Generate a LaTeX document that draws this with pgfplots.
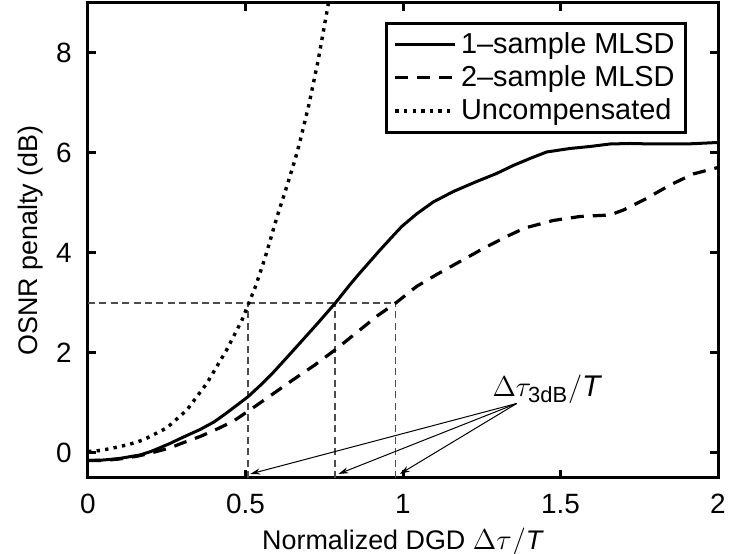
\documentclass[border=0pt]{standalone}
\usepackage{fontspec}
\setmainfont{Liberation Sans}
\usepackage{pgfplots}
\pgfplotsset{compat=1.18}
\usetikzlibrary{arrows.meta}
\begin{document}
\fontsize{13.5}{16}\selectfont
\begin{tikzpicture}
\begin{axis}[name=ax, at={(0,0)}, anchor=south west,
  width=315bp, height=237.5bp, scale only axis,
  xmin=0, xmax=2, ymin=-0.5, ymax=9,
  xtick={0,0.5,1,1.5,2}, ytick={0,2,4,6,8},
  xticklabels={0,0.5,1,1.5,2},
  tick align=inside, major tick length=4bp,
  every tick/.style={black, line width=1.5bp},
  axis line style={line width=1.5bp},
  /pgf/number format/assume math mode=true,
  tick label style={font=\fontsize{14}{16}\selectfont},
  xticklabel style={yshift=-3.5bp},
  yticklabel style={xshift=-3.5bp},
  xlabel={Normalized DGD $\Delta\tau/$\textit{T}},
  ylabel={OSNR penalty (dB)},
  xlabel style={at={(axis description cs:0.5,-0.085)}, anchor=north, font=\fontsize{13.5}{16}\selectfont},
  ylabel style={at={(axis description cs:-0.056,0.5)}, anchor=south, font=\fontsize{13.5}{16}\selectfont},
  legend style={at={(0.951,0.96)}, anchor=north east, draw=black, line width=1.5bp,
    font=\fontsize{14.5}{16}\selectfont, inner xsep=3.5bp, inner ysep=2.5bp, row sep=0bp,
    cells={anchor=west}},
  legend image code/.code={\draw[#1] (0bp,0bp) -- (30bp,0bp);},
  clip=true,
]
% 3 dB guide lines
\addplot[forget plot, gray!60!black, line width=0.6bp, dash pattern=on 3.5bp off 2.2bp] coordinates {(0,3) (0.975,3)};
\addplot[forget plot, gray!60!black, line width=0.6bp, dash pattern=on 3.5bp off 2.2bp] coordinates {(0.508,-0.5) (0.508,3)};
\addplot[forget plot, gray!60!black, line width=0.6bp, dash pattern=on 3.5bp off 2.2bp] coordinates {(0.784,-0.5) (0.784,3)};
\addplot[forget plot, gray!60!black, line width=0.6bp, dash pattern=on 3.5bp off 2.2bp] coordinates {(0.975,-0.5) (0.975,3)};

\addplot[black, line width=1.5bp, line join=round] coordinates {
(0,-0.15) (0.05,-0.14) (0.10,-0.11) (0.165,-0.04) (0.20,0.03) (0.26,0.19)
(0.30,0.31) (0.356,0.47) (0.40,0.62) (0.44,0.8) (0.509,1.13) (0.55,1.37)
(0.588,1.61) (0.63,1.9) (0.673,2.2) (0.73,2.6) (0.784,2.99) (0.832,3.37)
(0.863,3.6) (0.895,3.83) (0.93,4.08) (0.965,4.32) (0.996,4.53) (1.043,4.78) (1.096,5.02)
(1.16,5.23) (1.234,5.43) (1.297,5.59) (1.35,5.75) (1.403,5.89) (1.456,6.02)
(1.53,6.09) (1.594,6.13) (1.657,6.18) (1.72,6.19) (1.794,6.18) (1.90,6.18) (2.0,6.21)
};
\addlegendentry{1--sample MLSD}

\addplot[black, line width=1.6bp, line join=round, dash pattern=on 6.5bp off 4.5bp] coordinates {
(0,-0.15) (0.05,-0.15) (0.10,-0.12) (0.16,-0.06) (0.20,0.0) (0.26,0.1)
(0.30,0.2) (0.356,0.33) (0.40,0.45) (0.46,0.63) (0.514,0.86) (0.58,1.15)
(0.65,1.46) (0.72,1.76) (0.784,2.06) (0.863,2.46) (0.92,2.75) (0.975,2.99)
(1.043,3.33) (1.107,3.57) (1.181,3.83) (1.255,4.09) (1.329,4.33) (1.387,4.5)
(1.477,4.65) (1.562,4.73) (1.657,4.76) (1.70,4.86) (1.773,5.09) (1.848,5.36)
(1.921,5.58) (2.0,5.71)
};
\addlegendentry{2--sample MLSD}

\addplot[black, line width=1.7bp, dash pattern=on 1.7bp off 2.6bp] coordinates {
(0,0.03) (0.04,0.05) (0.08,0.1) (0.13,0.17) (0.175,0.26) (0.25,0.5)
(0.314,0.86) (0.378,1.4) (0.44,2.06) (0.489,2.66) (0.508,2.96) (0.53,3.3)
(0.562,3.9) (0.599,4.7) (0.631,5.33) (0.657,5.86) (0.673,6.23) (0.70,6.93)
(0.73,7.83) (0.762,8.95) (0.775,9.5)
};
\addlegendentry{Uncompensated}

% annotation
\node[anchor=base west, inner sep=0pt, font=\fontsize{15}{17}\selectfont] at (axis cs:1.283,1.12)
  {$\Delta\tau_{\mbox{\fontsize{11}{13}\selectfont 3dB}}/$\textit{T}};
\draw[black, line width=0.5bp, -{Stealth[length=5bp,width=3bp]}] (axis cs:1.361,0.99) -- (axis cs:0.515,-0.42);
\draw[black, line width=0.5bp, -{Stealth[length=5bp,width=3bp]}] (axis cs:1.361,0.99) -- (axis cs:0.795,-0.42);
\draw[black, line width=0.5bp, -{Stealth[length=5bp,width=3bp]}] (axis cs:1.361,0.99) -- (axis cs:0.99,-0.42);
\end{axis}
\pgfresetboundingbox
\path ([xshift=-44bp,yshift=-38bp]ax.south west) rectangle ([xshift=6bp,yshift=1.5bp]ax.north east);
\end{tikzpicture}
\end{document}
